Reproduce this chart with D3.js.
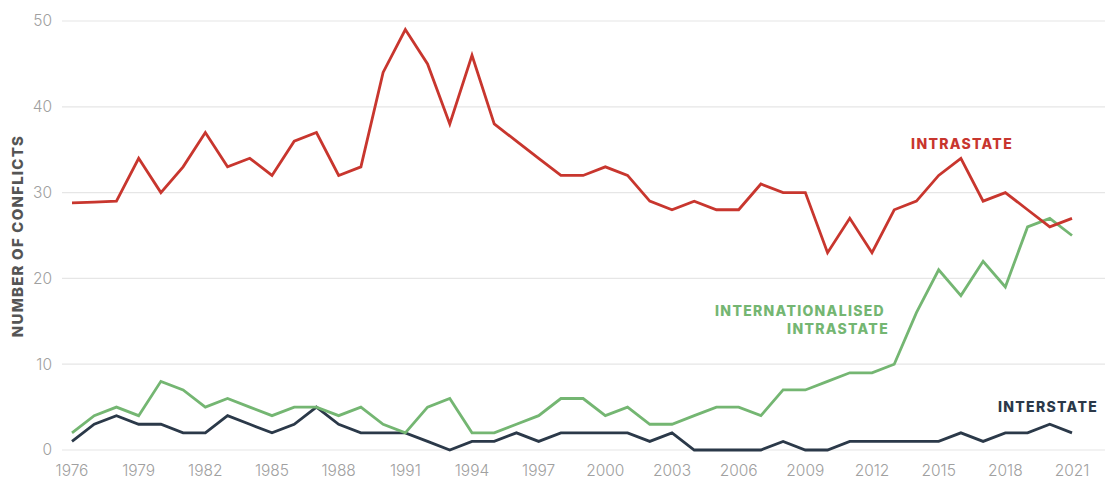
<!DOCTYPE html>
<html><head><meta charset="utf-8">
<script src="https://cdn.jsdelivr.net/npm/d3@7"></script>
<style>
body{margin:0;background:#fff;}
svg{display:block;}
</style></head>
<body>
<svg id="chart" width="1105" height="480"></svg>
<script>
const years = d3.range(1976, 2022);
const intrastate = [28.8,28.9,29,34,30,33,37,33,34,32,36,37,32,33,44,49,45,38,46,38,36,34,32,32,33,32,29,28,29,28,28,31,30,30,23,27,23,28,29,32,34,29,30,28,26,27];
const internationalised = [2,4,5,4,8,7,5,6,5,4,5,5,4,5,3,2,5,6,2,2,3,4,6,6,4,5,3,3,4,5,5,4,7,7,8,9,9,10,16,21,18,22,19,26,27,25];
const interstate = [1,3,4,3,3,2,2,4,3,2,3,5,3,2,2,2,1,0,1,1,2,1,2,2,2,2,1,2,0,0,0,0,1,0,0,1,1,1,1,1,2,1,2,2,3,2];
const yTicks = [0,10,20,30,40,50];
const xTicks = d3.range(1976, 2022, 3);
const seriesNames = ["INTRASTATE","INTERNATIONALISED INTRASTATE","INTERSTATE"];
const colors = ["#c8362e","#74b672","#2b3949"];

const svg = d3.select("#chart");
const x = d3.scaleLinear().domain([1976, 2021]).range([72, 1072]);
const y = d3.scaleLinear().domain([0, 50]).range([450, 21]);

// gridlines
svg.append("g").selectAll("line").data(yTicks).join("line")
  .attr("x1", 62).attr("x2", 1105)
  .attr("y1", d => y(d)).attr("y2", d => y(d))
  .attr("stroke", "#e6e6e6").attr("stroke-width", 1.2);

// y tick labels
svg.append("g").selectAll("text").data(yTicks).join("text")
  .attr("x", 52).attr("y", d => y(d)).attr("dy", "0.35em")
  .attr("text-anchor", "end")
  .attr("font-family", "Inter, 'Noto Sans', sans-serif")
  .attr("font-size", 15.5).attr("font-weight", 300)
  .attr("fill", "#a0a0a0").text(d => d);

// x tick labels
svg.append("g").selectAll("text").data(xTicks).join("text")
  .attr("x", d => x(d)).attr("y", 476)
  .attr("text-anchor", "middle")
  .attr("font-family", "Inter, 'Noto Sans', sans-serif")
  .attr("font-size", 15.5).attr("font-weight", 300)
  .attr("fill", "#a0a0a0").text(d => d);

// y axis title
svg.append("text")
  .attr("transform", "translate(23,236) rotate(-90)")
  .attr("text-anchor", "middle")
  .attr("font-family", "Inter, 'Noto Sans', sans-serif")
  .attr("font-size", 15).attr("font-weight", 800)
  .attr("letter-spacing", "1.2px")
  .attr("fill", "#555").text("NUMBER OF CONFLICTS");

const line = d3.line().x((d, i) => x(years[i])).y(d => y(d));
const data = [interstate, internationalised, intrastate];
const cols = [colors[2], colors[1], colors[0]];
svg.append("g").selectAll("path").data(data).join("path")
  .attr("d", d => line(d))
  .attr("fill", "none")
  .attr("stroke", (d, i) => cols[i])
  .attr("stroke-width", 2.8)
  .attr("stroke-linejoin", "miter");

// labels
const lab = svg.append("g")
  .attr("font-family", "Inter, 'Noto Sans', sans-serif")
  .attr("font-size", 14).attr("font-weight", 800)
  .attr("letter-spacing", "1.3px");
lab.append("text").attr("x", 1013).attr("y", 149).attr("text-anchor", "end")
  .attr("fill", colors[0]).text(seriesNames[0]);
lab.append("text").attr("x", 885).attr("y", 316).attr("text-anchor", "end")
  .attr("fill", colors[1]).text("INTERNATIONALISED");
lab.append("text").attr("x", 889).attr("y", 334).attr("text-anchor", "end")
  .attr("fill", colors[1]).text("INTRASTATE");
lab.append("text").attr("x", 1098).attr("y", 412).attr("text-anchor", "end")
  .attr("fill", colors[2]).text(seriesNames[2]);
</script>
</body></html>
